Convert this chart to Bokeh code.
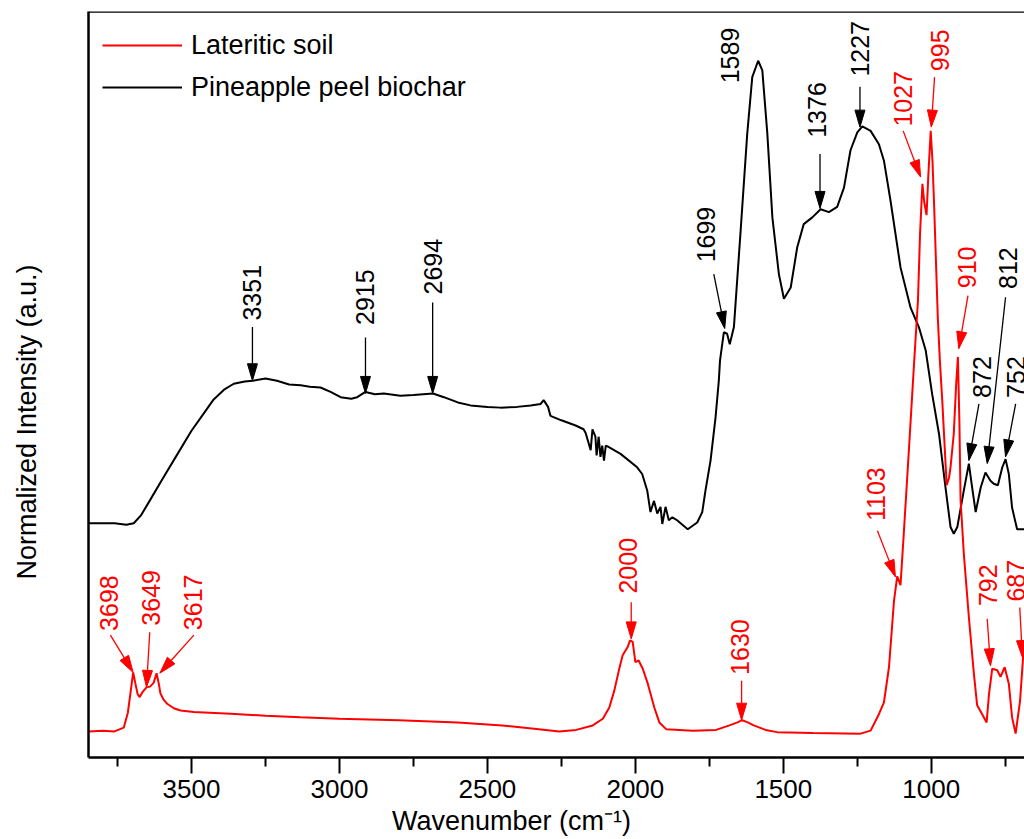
import math
from bokeh.plotting import figure
from bokeh.models import (Range1d, FixedTicker, Span, Legend, LegendItem,
                          ColumnDataSource, LinearAxis)
from bokeh.embed import file_html
from bokeh.resources import INLINE
from bokeh.core.properties import value

# ---------------- data ----------------
soil_wn = [3848, 3800, 3760, 3729, 3715, 3705, 3697, 3690, 3682, 3675, 3665, 3652, 3640,
           3628, 3618, 3610, 3605, 3595, 3582, 3560, 3537, 3492, 3368, 3250, 3132, 3000,
           2800, 2600, 2450, 2350, 2257, 2200, 2144, 2110, 2088, 2071, 2055, 2043, 2026,
           2018, 2009, 2000, 1989, 1975, 1958, 1936, 1919, 1896, 1806, 1727, 1682, 1655,
           1639, 1620, 1600, 1560, 1521, 1400, 1239, 1205, 1177, 1160, 1143, 1126, 1115,
           1104, 1093, 1076, 1059, 1045, 1038, 1030, 1024, 1016, 1010, 1002, 996, 991,
           978, 971, 963, 948, 940, 935, 924, 916, 910, 905, 901, 890, 873, 856, 845,
           828, 813, 805, 794, 785, 777, 766, 752, 738, 727, 715, 700, 689, 684]
soil_int = [0.035, 0.036, 0.035, 0.040, 0.060, 0.090, 0.114, 0.100, 0.085, 0.081, 0.088,
            0.094, 0.095, 0.100, 0.113, 0.098, 0.086, 0.078, 0.072, 0.066, 0.063, 0.061,
            0.0585, 0.056, 0.054, 0.052, 0.050, 0.047, 0.043, 0.039, 0.035, 0.037, 0.043,
            0.052, 0.067, 0.090, 0.118, 0.137, 0.148, 0.157, 0.155, 0.128, 0.130, 0.119,
            0.099, 0.067, 0.047, 0.038, 0.036, 0.037, 0.043, 0.047, 0.050, 0.047, 0.043,
            0.037, 0.034, 0.033, 0.032, 0.036, 0.058, 0.074, 0.121, 0.210, 0.243, 0.231,
            0.300, 0.410, 0.523, 0.613, 0.702, 0.769, 0.745, 0.727, 0.780, 0.840, 0.800,
            0.747, 0.590, 0.532, 0.479, 0.365, 0.375, 0.389, 0.434, 0.500, 0.537, 0.450,
            0.345, 0.273, 0.188, 0.112, 0.070, 0.058, 0.047, 0.085, 0.119, 0.118, 0.117,
            0.108, 0.121, 0.099, 0.054, 0.032, 0.076, 0.139, 0.135]

char_wn = [3848, 3760, 3720, 3695, 3670, 3640, 3600, 3550, 3500, 3450, 3425, 3390, 3357,
           3320, 3293, 3250, 3211, 3170, 3131, 3100, 3064, 3030, 2996, 2960, 2940, 2912,
           2880, 2850, 2794, 2750, 2684, 2647, 2600, 2557, 2500, 2456, 2400, 2354, 2320,
           2310, 2295, 2287, 2250, 2202, 2175, 2168, 2151, 2145, 2135, 2131, 2124, 2118,
           2112, 2106, 2100, 2094, 2050, 1994, 1977, 1960, 1949, 1937, 1926, 1915, 1909,
           1898, 1887, 1875, 1859, 1823, 1791, 1774, 1763, 1746, 1729, 1718, 1714, 1701,
           1690, 1681, 1667, 1645, 1622, 1605, 1585, 1571, 1554, 1537, 1515, 1498, 1475,
           1453, 1431, 1402, 1374, 1346, 1318, 1295, 1273, 1250, 1233, 1205, 1177, 1160,
           1138, 1104, 1070, 1042, 1019, 997, 974, 952, 935, 924, 912, 890, 873, 862, 850,
           833, 817, 800, 789, 775, 760, 749, 738, 727, 710, 685]
char_int = [0.314, 0.314, 0.312, 0.314, 0.325, 0.345, 0.372, 0.405, 0.438, 0.466, 0.480,
            0.493, 0.501, 0.504, 0.505, 0.508, 0.505, 0.500, 0.499, 0.497, 0.496, 0.490,
            0.483, 0.481, 0.483, 0.490, 0.487, 0.488, 0.485, 0.486, 0.488, 0.483, 0.476,
            0.472, 0.470, 0.469, 0.470, 0.472, 0.474, 0.479, 0.470, 0.458, 0.452, 0.445,
            0.440, 0.435, 0.412, 0.440, 0.430, 0.405, 0.430, 0.403, 0.418, 0.398, 0.418,
            0.417, 0.407, 0.389, 0.380, 0.358, 0.329, 0.344, 0.327, 0.336, 0.313, 0.336,
            0.318, 0.322, 0.318, 0.306, 0.315, 0.329, 0.358, 0.398, 0.456, 0.505, 0.532,
            0.570, 0.568, 0.554, 0.577, 0.702, 0.836, 0.912, 0.934, 0.921, 0.836, 0.724,
            0.648, 0.615, 0.630, 0.684, 0.715, 0.724, 0.735, 0.731, 0.738, 0.764, 0.814,
            0.838, 0.846, 0.840, 0.822, 0.800, 0.747, 0.657, 0.603, 0.577, 0.546, 0.487,
            0.434, 0.362, 0.309, 0.300, 0.309, 0.358, 0.394, 0.362, 0.329, 0.362, 0.382,
            0.371, 0.367, 0.365, 0.389, 0.400, 0.380, 0.335, 0.306, 0.306]

# peak annotations: label, text position, arrow start, arrow tip (wavenumber, intensity)
peak_text = ["3351", "2915", "2694", "1699", "1589", "1376", "1227", "812", "872", "752",
             "1027", "995", "910", "1103", "792", "687", "3698", "3649", "3617", "2000", "1630"]
peak_series = ["char"] * 10 + ["soil"] * 11
text_wn = [3294, 2912, 2685, 1760, 1681, 1385, 1242, 740, 828, 714,
           1095, 969, 878, 1188, 808, 714, 3779, 3638, 3495, 2025, 1647]
text_int = [0.623, 0.617, 0.658, 0.701, 0.941, 0.868, 0.950, 0.656, 0.510, 0.510,
            0.883, 0.948, 0.657, 0.353, 0.231, 0.237, 0.207, 0.214, 0.208, 0.257, 0.148]
arrow_wn0 = [3294, 2912, 2685, 1735, None, 1376, 1241, 749, 839, 715,
             1095, 989, 876, 1182, 811, 701, 3774, 3641, 3492, 2014, 1641]
arrow_int0 = [0.577, 0.563, 0.610, 0.648, None, 0.809, 0.899, 0.617, 0.474, 0.474,
              0.840, 0.912, 0.619, 0.304, 0.186, 0.201, 0.164, 0.168, 0.164, 0.208, 0.103]
arrow_wn1 = [3294, 2912, 2685, 1698, None, 1376, 1241, 811, 873, 749,
             1036, 1000, 907, 1121, 800, 692, 3697, 3652, 3607, 2014, 1641]
arrow_int1 = [0.505, 0.488, 0.488, 0.575, None, 0.736, 0.845, 0.394, 0.398, 0.403,
              0.778, 0.845, 0.548, 0.242, 0.123, 0.134, 0.114, 0.094, 0.113, 0.159, 0.050]

major_ticks = [3500, 3000, 2500, 2000, 1500, 1000]
minor_ticks = [3750, 3250, 2750, 2250, 1750, 1250, 750]

x_title = "Wavenumber (cm\u207b\u00b9)"
y_title = "Normalized Intensity (a.u.)"

# ---------------- figure ----------------
X0, X1 = 3848, 685
Y0, Y1 = 0.0, 1.0
W, H = 1024, 839
ML, MT, MB, MR = 88, 11, 82, 0
FW, FH = W - ML - MR, H - MT - MB

p = figure(width=W, height=H, x_range=Range1d(X0, X1), y_range=Range1d(Y0, Y1),
           output_backend="svg", toolbar_location=None,
           x_axis_location=None, y_axis_location=None,
           min_border_left=ML, min_border_right=MR, min_border_top=MT, min_border_bottom=MB)
p.outline_line_color = None
p.grid.visible = False
p.background_fill_color = "white"
p.border_fill_color = "white"

FONT = "Liberation Sans"
NB = "\u00a0"

xaxis = LinearAxis(ticker=FixedTicker(ticks=major_ticks, minor_ticks=minor_ticks))
xaxis.axis_line_width = 2.5
xaxis.axis_line_color = "black"
xaxis.major_tick_line_width = 2
xaxis.minor_tick_line_width = 2
xaxis.major_tick_in = 0
xaxis.major_tick_out = 16
xaxis.minor_tick_in = 0
xaxis.minor_tick_out = 9
xaxis.major_label_standoff = 6
xaxis.major_label_text_font = FONT
xaxis.major_label_text_font_size = "26px"
xaxis.major_label_text_color = "black"
# trailing no-break spaces shift the centred title left, to where the picture has it
xaxis.axis_label = x_title + NB * 12
xaxis.axis_label_standoff = 5
xaxis.axis_label_text_font = FONT
xaxis.axis_label_text_font_size = "27px"
xaxis.axis_label_text_font_style = "normal"
xaxis.axis_label_text_color = "black"
p.add_layout(xaxis, "below")

yaxis = LinearAxis(ticker=FixedTicker(ticks=[]))
yaxis.axis_line_width = 2.5
yaxis.axis_line_color = "black"
yaxis.major_tick_out = 0
yaxis.major_tick_in = 0
yaxis.minor_tick_out = 0
yaxis.minor_tick_in = 0
yaxis.major_label_standoff = 0
yaxis.axis_label = y_title + NB * 10
yaxis.axis_label_standoff = 47
yaxis.axis_label_text_font = FONT
yaxis.axis_label_text_font_size = "27px"
yaxis.axis_label_text_font_style = "normal"
yaxis.axis_label_text_color = "black"
p.add_layout(yaxis, "left")

p.add_layout(Span(location=Y1, dimension="width", line_color="black", line_width=2.5))

r_char = p.line(char_wn, char_int, line_color="black", line_width=2)
r_soil = p.line(soil_wn, soil_int, line_color="#ff0000", line_width=2)

# arrows
kx = FW / (X0 - X1)
ky = FH / (Y1 - Y0)
HEAD_L, HEAD_W = 17.0, 5.0
shaft = {"char": ([], []), "soil": ([], [])}
heads = {"char": ([], []), "soil": ([], [])}
for i, s in enumerate(peak_series):
    if arrow_wn0[i] is None:
        continue
    x0p, y0p = (X0 - arrow_wn0[i]) * kx, (arrow_int0[i] - Y0) * ky
    x1p, y1p = (X0 - arrow_wn1[i]) * kx, (arrow_int1[i] - Y0) * ky
    dx, dy = x1p - x0p, y1p - y0p
    n = math.hypot(dx, dy)
    ux, uy = dx / n, dy / n
    bx, by = x1p - HEAD_L * ux, y1p - HEAD_L * uy
    px_pts = [x1p, bx - HEAD_W * uy, bx + HEAD_W * uy]
    py_pts = [y1p, by + HEAD_W * ux, by - HEAD_W * ux]
    heads[s][0].append([X0 - v / kx for v in px_pts])
    heads[s][1].append([Y0 + v / ky for v in py_pts])
    shaft[s][0].append([arrow_wn0[i], X0 - bx / kx])
    shaft[s][1].append([arrow_int0[i], Y0 + by / ky])

colors = {"char": "black", "soil": "#ff0000"}
for s in ("char", "soil"):
    p.multi_line(shaft[s][0], shaft[s][1], line_color=colors[s], line_width=1.3)
    p.patches(heads[s][0], heads[s][1], fill_color=colors[s], line_color=colors[s], line_width=1)

src = ColumnDataSource(dict(x=text_wn, y=text_int, t=peak_text,
                            c=[colors[s] for s in peak_series]))
p.text(x="x", y="y", text="t", source=src, angle=math.pi / 2, text_color="c",
       text_font=value(FONT), text_font_size="25px", text_align="center",
       text_baseline="middle")

legend = Legend(items=[LegendItem(label="Lateritic soil", renderers=[r_soil]),
                       LegendItem(label="Pineapple peel biochar", renderers=[r_char])],
                location="top_left")
legend.margin = 14
legend.padding = 0
legend.spacing = 2
legend.glyph_width = 80
legend.glyph_height = 40
legend.label_height = 40
legend.label_standoff = 9
legend.label_text_font = FONT
legend.label_text_font_size = "27px"
legend.label_text_color = "black"
legend.border_line_color = None
legend.background_fill_alpha = 0
p.add_layout(legend)

open("out.html", "w").write(file_html(p, INLINE))
